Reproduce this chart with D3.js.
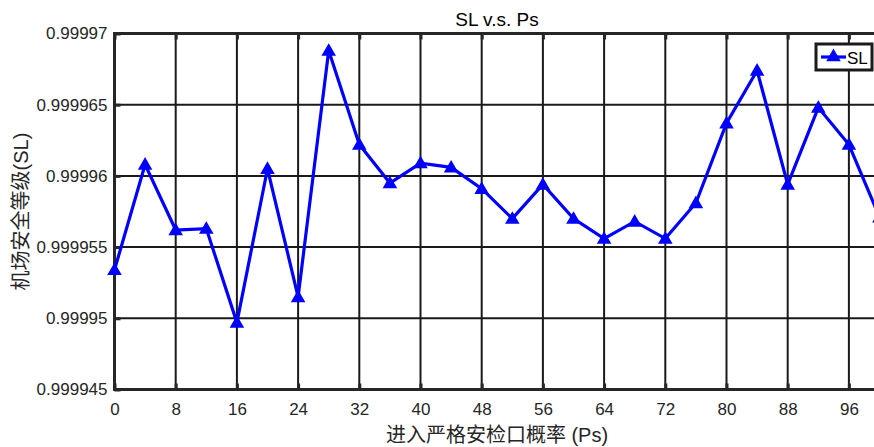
<!DOCTYPE html>
<html>
<head>
<meta charset="utf-8">
<script src="https://cdn.jsdelivr.net/npm/d3@7"></script>
<style>
  html, body { margin: 0; padding: 0; background: #fff; overflow: hidden; }
  svg { display: block; }
  text { font-family: "Liberation Sans", Arial, "Noto Sans CJK SC", sans-serif; fill: #262626; }
</style>
</head>
<body>
<svg id="chart" width="874" height="447"></svg>
<script>
// Entry probability Ps (%) and the resulting airport safety level SL
const ps = [0, 4, 8, 12, 16, 20, 24, 28, 32, 36, 40, 44, 48, 52, 56, 60, 64, 68, 72, 76, 80, 84, 88, 92, 96, 100];
const sl = [
  0.9999534, 0.9999608, 0.9999562, 0.9999563, 0.9999497, 0.9999605, 0.9999515,
  0.9999688, 0.9999622, 0.9999595, 0.9999609, 0.9999606, 0.9999591, 0.9999570,
  0.9999594, 0.9999570, 0.9999556, 0.9999568, 0.9999556, 0.9999581, 0.9999637,
  0.9999674, 0.9999594, 0.9999648, 0.9999622, 0.9999571
];
const xTicks = [0, 8, 16, 24, 32, 40, 48, 56, 64, 72, 80, 88, 96];
const yTicks = [0.999945, 0.99995, 0.999955, 0.99996, 0.999965, 0.99997];
const yTickLabels = ["0.999945", "0.99995", "0.999955", "0.99996", "0.999965", "0.99997"];

const titleText = "SL v.s. Ps";
const xLabel = "进入严格安检口概率 (Ps)";
const yLabel = "机场安全等级(SL)";
const seriesName = "SL";

const svg = d3.select("#chart");
const margin = { left: 114.5, top: 33.5, right: 879.5, bottom: 389.5 };
const W = margin.right - margin.left;
const H = margin.bottom - margin.top;

const x = d3.scaleLinear().domain([0, 100]).range([margin.left, margin.right]);
const y = d3.scaleLinear().domain([0.999945, 0.99997]).range([margin.bottom, margin.top]);

const g = svg.append("g");

// Grid lines
g.append("g")
  .selectAll("line.vg")
  .data(xTicks)
  .join("line")
  .attr("x1", d => x(d)).attr("x2", d => x(d))
  .attr("y1", margin.top).attr("y2", margin.bottom)
  .attr("stroke", "#1a1a1a").attr("stroke-width", 2);

g.append("g")
  .selectAll("line.hg")
  .data(yTicks)
  .join("line")
  .attr("x1", margin.left).attr("x2", margin.right)
  .attr("y1", d => y(d)).attr("y2", d => y(d))
  .attr("stroke", "#1a1a1a").attr("stroke-width", 2);

// Axes (ticks point inward)
const xAxis = d3.axisBottom(x).tickValues(xTicks).tickSize(-6).tickPadding(13).tickFormat(d3.format("d"));
const xAxisG = g.append("g").attr("transform", `translate(0,${margin.bottom})`).call(xAxis);
const xTopG = g.append("g").attr("transform", `translate(0,${margin.top})`)
  .call(d3.axisTop(x).tickValues(xTicks).tickSize(-6).tickFormat(""));
const yAxis = d3.axisLeft(y).tickValues(yTicks).tickSize(-6).tickPadding(7)
  .tickFormat((d, i) => yTickLabels[i]);
const yAxisG = g.append("g").attr("transform", `translate(${margin.left},0)`).call(yAxis);

[xAxisG, xTopG, yAxisG].forEach(a => {
  a.select(".domain").remove();
  a.selectAll(".tick line").attr("stroke", "#262626").attr("stroke-width", 3);
  a.selectAll(".tick text").attr("font-size", 17).attr("fill", "#262626")
    .style("font-family", '"Liberation Sans", Arial, sans-serif');
});

// Axis box
g.append("rect")
  .attr("x", margin.left).attr("y", margin.top)
  .attr("width", W).attr("height", H)
  .attr("fill", "none").attr("stroke", "#262626").attr("stroke-width", 3);

// Data line
const line = d3.line().x((d, i) => x(ps[i])).y(d => y(d));
g.append("path")
  .datum(sl)
  .attr("d", line)
  .attr("fill", "none").attr("stroke", "#0000ff").attr("stroke-width", 3.2)
  .attr("stroke-linejoin", "miter");

// Triangle markers
const tri = d3.symbol().type(d3.symbolTriangle).size(62);
g.append("g")
  .selectAll("path.marker")
  .data(sl)
  .join("path")
  .attr("transform", (d, i) => `translate(${x(ps[i])},${y(d) + 1})`)
  .attr("d", tri)
  .attr("fill", "#0000ff").attr("stroke", "#0000ff").attr("stroke-width", 1.5);

// Title and axis labels
svg.append("text")
  .attr("x", (margin.left + margin.right) / 2).attr("y", 26)
  .attr("text-anchor", "middle").attr("font-size", 19)
  .attr("fill", "#000").style("fill", "#000")
  .text(titleText);

svg.append("text")
  .attr("x", (margin.left + margin.right) / 2).attr("y", 442)
  .attr("text-anchor", "middle").attr("font-size", 20)
  .style("fill", "#262626")
  .text(xLabel);

svg.append("text")
  .attr("transform", `translate(28,${(margin.top + margin.bottom) / 2}) rotate(-90)`)
  .attr("text-anchor", "middle").attr("font-size", 20)
  .style("fill", "#262626")
  .text(yLabel);

// Legend
const lg = svg.append("g").attr("transform", "translate(816,44)");
lg.append("rect").attr("x", 0).attr("y", 0).attr("width", 56).attr("height", 26)
  .attr("fill", "#fff").attr("stroke", "#1a1a1a").attr("stroke-width", 3);
lg.append("line").attr("x1", 5).attr("x2", 30).attr("y1", 13).attr("y2", 13)
  .attr("stroke", "#0000ff").attr("stroke-width", 3.2);
lg.append("path").attr("transform", "translate(17.5,13)").attr("d", tri)
  .attr("fill", "#0000ff").attr("stroke", "#0000ff").attr("stroke-width", 1.5);
lg.append("text").attr("x", 31).attr("y", 20).attr("font-size", 17)
  .style("fill", "#000").text(seriesName);
</script>
</body>
</html>
